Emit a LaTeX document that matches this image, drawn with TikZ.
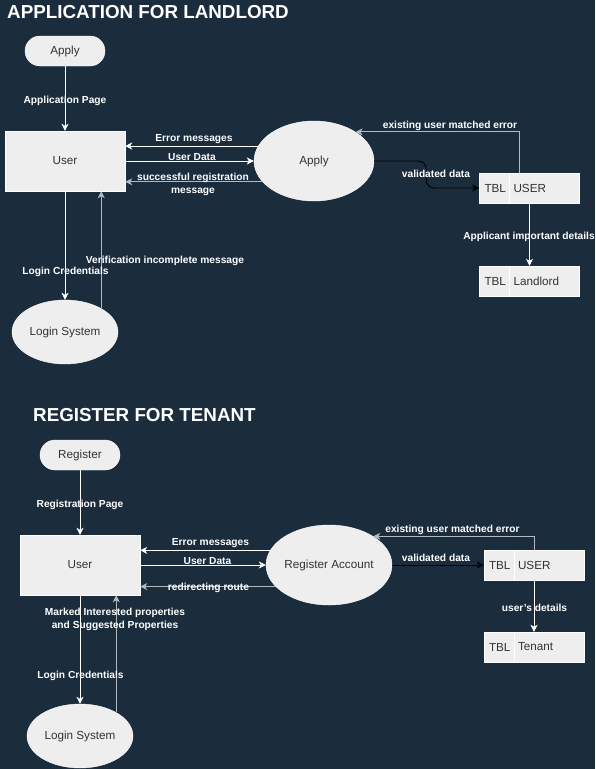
\documentclass[tikz,border=0pt]{standalone}
\usepackage{fontspec}
\setmainfont{Liberation Sans}
\usetikzlibrary{arrows.meta,shapes.geometric}
\definecolor{bgnavy}{HTML}{1B2C3D}
\definecolor{boxfill}{HTML}{EEEEEE}
\definecolor{boxtext}{HTML}{333333}
\definecolor{dimline}{HTML}{B4B9BE}
\begin{document}
\begin{tikzpicture}[x=1pt,y=-1pt,
  flow/.style={draw=white, line width=0.9pt, -{Stealth[length=7pt,width=7pt,inset=2pt]}},
  dimflow/.style={flow, draw=dimline},
  darkflow/.style={flow, draw=black},
  lbl/.style={text=white, font=\bfseries\fontsize{10.2}{13}\selectfont, inner sep=0pt, align=center, yshift=-1.5pt},
  heading/.style={text=white, font=\bfseries\fontsize{18.8}{22}\selectfont, inner sep=0pt, anchor=west},
  txt/.style={text=boxtext, font=\fontsize{11.7}{14}\selectfont},
  start/.style={txt, draw=white, fill=boxfill, rounded corners=15pt, minimum width=80pt, minimum height=30pt},
  entity/.style={txt, draw=white, fill=boxfill, minimum width=120pt, minimum height=60pt},
  proc/.style={txt, ellipse, draw=white, fill=boxfill, inner sep=0pt, minimum width=120pt, minimum height=80pt},
  login/.style={proc, minimum width=106pt, minimum height=64pt},
  tbl/.style={draw=white, fill=boxfill, minimum width=100pt, minimum height=30pt}]
  \fill[bgnavy] (0,0) rectangle (595,769);

  % landlord application
  \node[heading] (title1) at (7,12) {APPLICATION FOR LANDLORD};
  \node[start] (apply) at (65,51) {Apply};
  \node[entity] (user1) at (65,161) {User};
  \node[proc] (applyproc) at (314,161) {Apply};
  \node[login] (login1) at (65,332) {Login System};
  \node[tbl] (tbluser1) at (529.5,188) {};
  \node[tbl] (tblland) at (529.5,281) {};
  \foreach \t/\name in {tbluser1/USER, tblland/Landlord} {
    \draw[white] ([xshift=30pt]\t.north west) -- ([xshift=30pt]\t.south west);
    \node[txt, anchor=west, inner sep=0pt] at ([xshift=5pt]\t.west) {TBL};
    \node[txt, anchor=west, inner sep=0pt] at ([xshift=34pt]\t.west) {\name};
  }

  \draw[flow] (apply.south) -- (user1.north);
  \draw[flow] (applyproc.165) -- (applyproc.165 -| user1.east);
  \draw[flow] (user1.east) -- (applyproc.west);
  \draw[dimflow] (applyproc.202) -- (applyproc.202 -| user1.east);
  \draw[darkflow, rounded corners=8pt] (applyproc.east) -- ++(52,0) |- (tbluser1.west);
  \draw[dimflow] ([xshift=-10.5pt]tbluser1.north) |- (applyproc.35);
  \draw[flow] (tbluser1.south) -- (tblland.north);
  \draw[flow] (user1.south) -- (login1.north);
  \draw[dimflow] (login1.33) -- (login1.33 |- user1.south);

  \node[lbl] (l1) at (65,99) {Application Page};
  \node[lbl] (l2) at (194,138) {Error messages};
  \node[lbl] (l3) at (192,156) {User Data};
  \node[lbl] (l4) at (193,182.5) {successful registration\\message};
  \node[lbl] (l5) at (436,172) {validated data};
  \node[lbl] (l6) at (450,124) {existing user matched error};
  \node[lbl] (l7) at (529,235) {Applicant important details};
  \node[lbl] (l8) at (65.5,270) {Login Credentials};
  \node[lbl] (l9) at (165,259) {Verification incomplete message};

  % tenant registration
  \node[heading] (title2) at (33,415) {REGISTER FOR TENANT};
  \node[start] (register) at (80,455) {Register};
  \node[entity] (user2) at (80,565) {User};
  \node[proc] (regproc) at (329,565) {Register Account};
  \node[login] (login2) at (80,736) {Login System};
  \node[tbl] (tbluser2) at (534,565) {};
  \node[tbl] (tblten) at (534,647) {};
  \foreach \t/\name in {tbluser2/USER, tblten/Tenant} {
    \draw[white] ([xshift=30pt]\t.north west) -- ([xshift=30pt]\t.south west);
    \node[txt, anchor=west, inner sep=0pt] at ([xshift=5pt]\t.west) {TBL};
    \node[txt, anchor=west, inner sep=0pt] at ([xshift=34pt]\t.west) {\name};
  }

  \draw[flow] (register.south) -- (user2.north);
  \draw[flow] (regproc.166) -- (regproc.166 -| user2.east);
  \draw[flow] (user2.east) -- (regproc.west);
  \draw[dimflow] (regproc.202) -- (regproc.202 -| user2.east);
  \draw[darkflow] (regproc.east) -- (tbluser2.west);
  \draw[dimflow] (tbluser2.north) |- (regproc.33);
  \draw[flow] (tbluser2.south) -- (tblten.north);
  \draw[flow] (user2.south) -- (login2.north);
  \draw[dimflow] (login2.33) -- (login2.33 |- user2.south);

  \node[lbl] (m1) at (80,503) {Registration Page};
  \node[lbl] (m2) at (210.5,542) {Error messages};
  \node[lbl] (m3) at (207.5,560) {User Data};
  \node[lbl] (m4) at (208.5,586) {redirecting route};
  \node[lbl] (m5) at (436,556) {validated data};
  \node[lbl] (m6) at (452.5,528) {existing user matched error};
  \node[lbl] (m7) at (534.5,606) {user's details};
  \node[lbl] (m8) at (115,617.5) {Marked Interested properties\\and Suggested Properties};
  \node[lbl] (m9) at (80.5,674) {Login Credentials};
\end{tikzpicture}
\end{document}
